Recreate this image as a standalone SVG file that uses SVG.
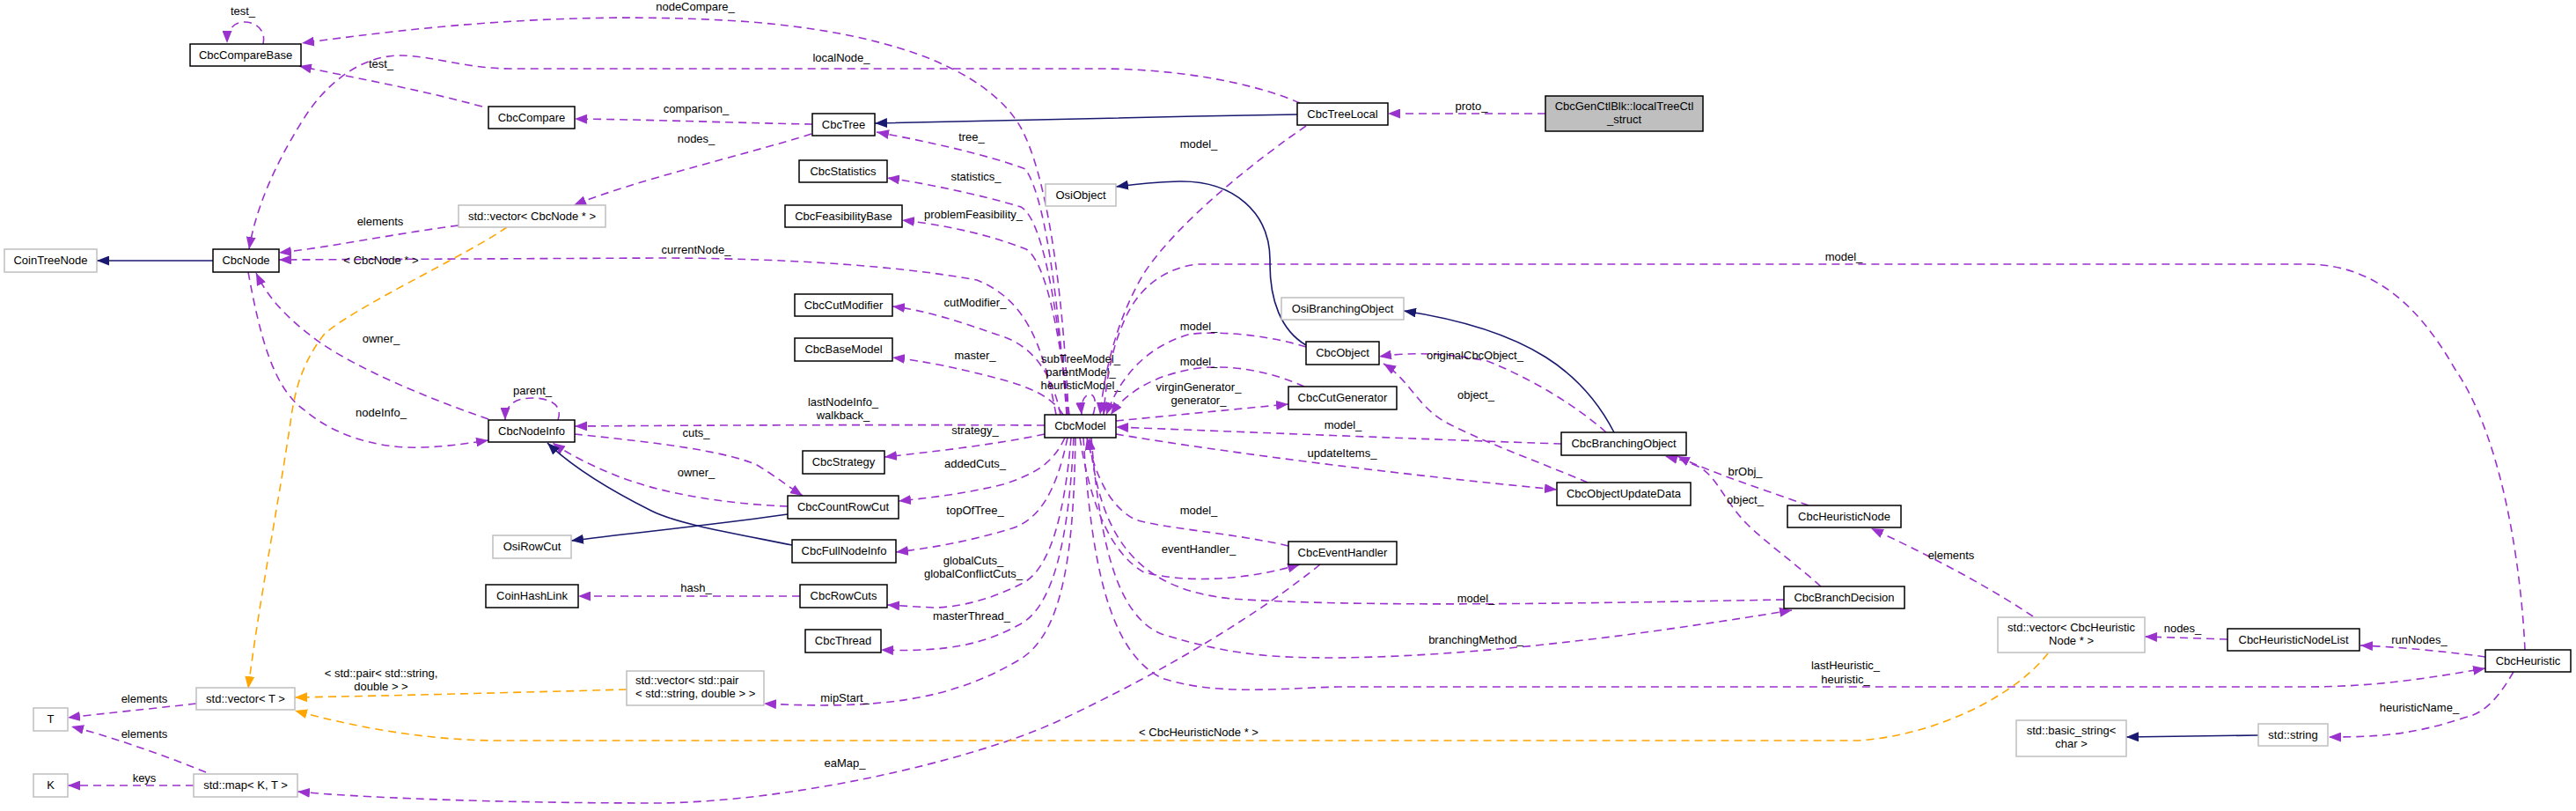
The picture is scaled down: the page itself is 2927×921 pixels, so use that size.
<svg xmlns="http://www.w3.org/2000/svg" width="2927" height="921" viewBox="0 0 2927 921">
<style>
.n rect{fill:#fff;stroke:#000;stroke-width:1.5}
.g rect{fill:#fff;stroke:#bfbfbf;stroke-width:1.5}
.s rect{fill:#bfbfbf;stroke:#000;stroke-width:1.5}
text{font-family:"Liberation Sans",Arial,sans-serif;font-size:13px;fill:#000;text-anchor:middle}
.u{fill:none;stroke:#9a32cd;stroke-width:1.6;stroke-dasharray:9,6;marker-end:url(#ap)}
.i{fill:none;stroke:#191970;stroke-width:1.6;marker-end:url(#an)}
.t{fill:none;stroke:#ffa500;stroke-width:1.6;stroke-dasharray:9,6;marker-end:url(#ao)}
</style>
<defs>
<marker id="ap" markerUnits="userSpaceOnUse" viewBox="0 0 15 11" markerWidth="15" markerHeight="11" refX="14" refY="5.5" orient="auto"><path d="M0,0 L14,5.5 L0,11 z" fill="#9a32cd" stroke="none"/></marker>
<marker id="an" markerUnits="userSpaceOnUse" viewBox="0 0 15 11" markerWidth="15" markerHeight="11" refX="14" refY="5.5" orient="auto"><path d="M0,0 L14,5.5 L0,11 z" fill="#191970" stroke="none"/></marker>
<marker id="ao" markerUnits="userSpaceOnUse" viewBox="0 0 15 11" markerWidth="15" markerHeight="11" refX="14" refY="5.5" orient="auto"><path d="M0,0 L14,5.5 L0,11 z" fill="#ffa500" stroke="none"/></marker>
</defs>
<rect width="2927" height="921" fill="#fff"/>
<g id="connectors">
<!-- usage edges -->
<path class="u" d="M299,50 C303,32 288,25 278,25 C266,25 258,33 258,49"/>
<text x="276" y="17">test_</text>
<path class="u" d="M1214,471 C1208,330 1190,200 1160,145 C1120,75 1000,35 840,24 C650,12 480,30 343,49"/>
<text x="790" y="12">nodeCompare_</text>
<path class="u" d="M1477,117 C1420,92 1330,78 1250,78 L580,78 C530,78 490,63 455,63 C410,63 370,95 345,135 C310,190 290,240 283,283"/>
<text x="956" y="70">localNode_</text>
<path class="u" d="M548,121 C470,100 400,88 340,75"/>
<text x="433" y="77">test_</text>
<path class="u" d="M923,141 C850,140 750,136 653,135"/>
<text x="791" y="128">comparison_</text>
<path class="u" d="M922,152 C850,175 720,205 652,233"/>
<text x="791" y="162">nodes_</text>
<path class="u" d="M1212,471 C1205,380 1192,230 1165,192 C1120,175 1050,160 996,150"/>
<text x="1104" y="160">tree_</text>
<path class="u" d="M1213,471 C1205,380 1188,250 1160,235 C1110,220 1050,208 1008,202"/>
<text x="1109" y="205">statistics_</text>
<path class="u" d="M1215,471 C1206,400 1192,300 1166,283 C1120,265 1070,255 1025,250"/>
<text x="1106" y="248">problemFeasibility_</text>
<path class="u" d="M1200,471 C1185,390 1165,340 1110,318 C1000,298 850,293 750,293 L317,295"/>
<text x="791" y="288">currentNode_</text>
<path class="u" d="M1205,471 C1195,420 1170,390 1133,380 C1090,365 1050,352 1014,348"/>
<text x="1108" y="348">cutModifier_</text>
<path class="u" d="M1208,471 C1195,450 1170,440 1142,432 C1090,418 1050,410 1014,406"/>
<text x="1108" y="408">master_</text>
<path class="u" d="M1242,471 C1252,440 1226,440 1229,471"/>
<text x="1228" y="412">subTreeModel_</text>
<text x="1228" y="427">parentModel_</text>
<text x="1228" y="442">heuristicModel_</text>
<path class="u" d="M1187,483 C1000,482 800,483 653,484"/>
<text x="958" y="461">lastNodeInfo_</text>
<text x="958" y="476">walkback_</text>
<path class="u" d="M1187,493 C1130,505 1060,513 1005,519"/>
<text x="1108" y="493">strategy_</text>
<path class="u" d="M1210,497 C1195,530 1170,540 1140,550 C1100,560 1060,565 1021,569"/>
<text x="1108" y="531">addedCuts_</text>
<path class="u" d="M1213,497 C1200,560 1180,590 1150,600 C1100,615 1060,622 1018,627"/>
<text x="1108" y="584">topOfTree_</text>
<path class="u" d="M1217,497 C1210,580 1195,640 1166,660 C1130,680 1090,690 1060,690 L1008,687"/>
<text x="1106" y="641">globalCuts_</text>
<text x="1106" y="656">globalConflictCuts_</text>
<path class="u" d="M1220,497 C1215,600 1200,690 1157,710 C1120,730 1080,741 1001,738"/>
<text x="1104" y="704">masterThread_</text>
<path class="u" d="M1222,497 C1220,620 1210,720 1157,750 C1080,795 1000,806 868,799"/>
<text x="960" y="797">mipStart_</text>
<path class="u" d="M653,493 C720,500 820,510 860,528 C880,540 895,552 912,563"/>
<text x="791" y="496">cuts_</text>
<path class="u" d="M895,575 C820,572 750,560 700,540 C670,528 645,515 628,503"/>
<text x="791" y="541">owner_</text>
<path class="u" d="M909,677 L657,677"/>
<text x="791" y="672">hash_</text>
<path class="u" d="M555,476 C480,450 410,420 365,390 C330,365 305,340 291,310"/>
<text x="433" y="389">owner_</text>
<path class="u" d="M282,309 C295,380 310,440 345,465 C380,495 430,510 480,508 C510,507 535,503 555,500"/>
<text x="433" y="473">nodeInfo_</text>
<path class="u" d="M634,477 C640,460 625,452 605,452 C585,452 574,460 574,477"/>
<text x="605" y="448">parent_</text>
<path class="u" d="M521,256 C450,265 380,280 317,287"/>
<text x="432" y="256">elements</text>
<path class="u" d="M1756,129 L1577,129"/>
<text x="1672" y="125">proto_</text>
<path class="u" d="M1484,143 C1430,180 1340,250 1300,310 C1270,360 1255,420 1250,471"/>
<text x="1362" y="168">model_</text>
<path class="u" d="M2869,738 C2865,650 2845,500 2790,420 C2750,350 2700,300 2620,300 L1360,300 C1320,305 1290,330 1275,370 C1262,400 1256,440 1254,471"/>
<text x="2095" y="296">model_</text>
<path class="u" d="M1484,394 C1440,380 1380,375 1350,380 C1300,395 1272,430 1257,471"/>
<text x="1362" y="375">model_</text>
<path class="u" d="M1482,439 C1440,420 1390,412 1350,420 C1310,428 1280,445 1262,471"/>
<text x="1362" y="415">model_</text>
<path class="u" d="M1268,478 C1330,472 1400,465 1464,459"/>
<text x="1362" y="444">virginGenerator_</text>
<text x="1362" y="459">generator_</text>
<path class="u" d="M1774,504 C1650,500 1400,490 1268,485"/>
<text x="1526" y="487">model_</text>
<path class="u" d="M1268,493 C1400,515 1600,540 1769,556"/>
<text x="1525" y="519">updateItems_</text>
<path class="u" d="M1825,491 C1790,460 1740,430 1690,410 C1640,400 1600,400 1567,405"/>
<text x="1676" y="408">originalCbcObject_</text>
<path class="u" d="M1804,548 C1750,525 1680,500 1640,478 C1610,460 1600,430 1572,413"/>
<text x="1677" y="453">object_</text>
<path class="u" d="M2055,574 C2000,555 1940,535 1906,518"/>
<text x="1983" y="540">brObj_</text>
<path class="u" d="M2069,666 C2040,640 2005,615 1985,595 C1960,570 1950,540 1930,530 C1915,523 1900,520 1892,518"/>
<text x="1983" y="572">object_</text>
<path class="u" d="M1464,620 C1400,605 1320,600 1290,590 C1260,575 1245,540 1235,497"/>
<text x="1362" y="584">model_</text>
<path class="u" d="M1227,497 C1240,580 1265,630 1300,650 C1360,665 1430,655 1477,641"/>
<text x="1362" y="628">eventHandler_</text>
<path class="u" d="M1500,641 C1440,690 1330,760 1200,820 C1100,865 900,910 750,912 C550,912 400,905 338,899"/>
<text x="960" y="871">eaMap_</text>
<path class="u" d="M2027,681 C1800,685 1550,690 1400,680 C1300,670 1250,620 1238,497"/>
<text x="1677" y="684">model_</text>
<path class="u" d="M1240,497 C1250,620 1270,700 1320,720 C1400,745 1450,747 1520,747 C1700,745 1900,715 2036,693"/>
<text x="1677" y="731">branchingMethod_</text>
<path class="u" d="M1231,497 C1240,640 1260,740 1320,770 C1380,790 1450,782 1520,780 L2620,780 C2700,780 2760,770 2824,759"/>
<text x="2097" y="760">lastHeuristic_</text>
<text x="2097" y="776">heuristic_</text>
<path class="u" d="M2310,700 C2250,660 2180,625 2126,600"/>
<text x="2217" y="635">elements</text>
<path class="u" d="M2531,726 L2437,723"/>
<text x="2480" y="718">nodes_</text>
<path class="u" d="M2824,746 C2780,740 2730,735 2682,733"/>
<text x="2749" y="731">runNodes_</text>
<path class="u" d="M2856,763 C2840,790 2825,810 2800,815 C2740,835 2700,837 2646,837"/>
<text x="2749" y="808">heuristicName_</text>
<path class="u" d="M223,799 C170,805 120,810 77,815"/>
<text x="164" y="798">elements</text>
<path class="u" d="M234,877 C180,855 120,835 81,825"/>
<text x="164" y="838">elements</text>
<path class="u" d="M220,892 L77,892"/>
<text x="164" y="888">keys</text>
<!-- inheritance edges -->
<path class="i" d="M242,296 L110,296"/>
<path class="i" d="M1474,130 C1300,133 1100,137 994,140"/>
<path class="i" d="M1484,392 C1455,375 1443,340 1443,300 C1445,240 1400,205 1340,206 C1310,207 1290,209 1268,212"/>
<path class="i" d="M1834,491 C1800,425 1740,375 1595,353"/>
<path class="i" d="M895,584 C820,595 720,605 649,614"/>
<path class="i" d="M900,619 C830,605 770,595 740,580 C690,555 650,530 622,503"/>
<path class="i" d="M2566,835 L2416,837"/>
<!-- template edges -->
<path class="t" d="M576,258 C530,290 400,350 368,380 C345,410 335,440 330,480 C315,580 295,680 282,782"/>
<text x="433" y="300">&lt; CbcNode * &gt;</text>
<path class="t" d="M712,783 C600,786 450,790 335,792"/>
<text x="433" y="769">&lt; std::pair&lt; std::string,</text>
<text x="433" y="784">double &gt; &gt;</text>
<path class="t" d="M2327,742 C2290,790 2200,835 2112,841 L560,841 C480,840 400,825 335,807"/>
<text x="1362" y="836">&lt; CbcHeuristicNode * &gt;</text>
</g>
<g id="CbcCompareBase" class="n"><rect x="216" y="50" width="126" height="25"/><text x="279" y="67">CbcCompareBase</text></g>
<g id="CbcCompare" class="n"><rect x="555" y="121" width="98" height="25"/><text x="604" y="138">CbcCompare</text></g>
<g id="CbcTree" class="n"><rect x="923" y="129" width="71" height="25"/><text x="958.5" y="146">CbcTree</text></g>
<g id="CbcTreeLocal" class="n"><rect x="1474" y="117" width="103" height="25"/><text x="1525.5" y="134">CbcTreeLocal</text></g>
<g id="CbcGenCtlBlk_localTreeCtl_struct" class="s"><rect x="1756" y="109" width="179" height="40"/><text x="1845.5" y="125">CbcGenCtlBlk::localTreeCtl</text><text x="1845.5" y="140">_struct</text></g>
<g id="CbcStatistics" class="n"><rect x="908" y="182" width="100" height="25"/><text x="958" y="199">CbcStatistics</text></g>
<g id="OsiObject" class="g"><rect x="1188" y="209" width="80" height="25"/><text x="1228" y="226">OsiObject</text></g>
<g id="CbcFeasibilityBase" class="n"><rect x="892" y="233" width="133" height="25"/><text x="958.5" y="250">CbcFeasibilityBase</text></g>
<g id="vector_CbcNode" class="g"><rect x="521" y="233" width="167" height="25"/><text x="604.5" y="250">std::vector&lt; CbcNode * &gt;</text></g>
<g id="CoinTreeNode" class="g"><rect x="5" y="283" width="105" height="26"/><text x="57.5" y="300">CoinTreeNode</text></g>
<g id="CbcNode" class="n"><rect x="242" y="283" width="75" height="26"/><text x="279.5" y="300">CbcNode</text></g>
<g id="OsiBranchingObject" class="g"><rect x="1456" y="338" width="139" height="25"/><text x="1525.5" y="355">OsiBranchingObject</text></g>
<g id="CbcCutModifier" class="n"><rect x="903" y="334" width="111" height="25"/><text x="958.5" y="351">CbcCutModifier</text></g>
<g id="CbcBaseModel" class="n"><rect x="903" y="384" width="111" height="26"/><text x="958.5" y="401">CbcBaseModel</text></g>
<g id="CbcObject" class="n"><rect x="1484" y="388" width="83" height="26"/><text x="1525.5" y="405">CbcObject</text></g>
<g id="CbcCutGenerator" class="n"><rect x="1464" y="439" width="123" height="26"/><text x="1525.5" y="456">CbcCutGenerator</text></g>
<g id="CbcNodeInfo" class="n"><rect x="555" y="477" width="98" height="25"/><text x="604" y="494">CbcNodeInfo</text></g>
<g id="CbcModel" class="n"><rect x="1187" y="471" width="81" height="26"/><text x="1227.5" y="488">CbcModel</text></g>
<g id="CbcBranchingObject" class="n"><rect x="1774" y="491" width="142" height="26"/><text x="1845" y="508">CbcBranchingObject</text></g>
<g id="CbcStrategy" class="n"><rect x="912" y="512" width="93" height="26"/><text x="958.5" y="529">CbcStrategy</text></g>
<g id="CbcObjectUpdateData" class="n"><rect x="1769" y="548" width="152" height="26"/><text x="1845" y="565">CbcObjectUpdateData</text></g>
<g id="CbcCountRowCut" class="n"><rect x="895" y="563" width="126" height="26"/><text x="958" y="580">CbcCountRowCut</text></g>
<g id="CbcHeuristicNode" class="n"><rect x="2031" y="574" width="129" height="25"/><text x="2095.5" y="591">CbcHeuristicNode</text></g>
<g id="OsiRowCut" class="g"><rect x="560" y="608" width="89" height="26"/><text x="604.5" y="625">OsiRowCut</text></g>
<g id="CbcFullNodeInfo" class="n"><rect x="900" y="613" width="118" height="26"/><text x="959" y="630">CbcFullNodeInfo</text></g>
<g id="CbcEventHandler" class="n"><rect x="1464" y="615" width="123" height="26"/><text x="1525.5" y="632">CbcEventHandler</text></g>
<g id="CoinHashLink" class="n"><rect x="552" y="664" width="105" height="26"/><text x="604.5" y="681">CoinHashLink</text></g>
<g id="CbcRowCuts" class="n"><rect x="909" y="664" width="99" height="26"/><text x="958.5" y="681">CbcRowCuts</text></g>
<g id="CbcBranchDecision" class="n"><rect x="2027" y="666" width="137" height="25"/><text x="2095.5" y="683">CbcBranchDecision</text></g>
<g id="vector_CbcHeuristicNode" class="g"><rect x="2270" y="701" width="167" height="40"/><text x="2353.5" y="717">std::vector&lt; CbcHeuristic</text><text x="2353.5" y="732">Node * &gt;</text></g>
<g id="CbcHeuristicNodeList" class="n"><rect x="2531" y="714" width="150" height="25"/><text x="2606" y="731">CbcHeuristicNodeList</text></g>
<g id="CbcThread" class="n"><rect x="915" y="715" width="86" height="26"/><text x="958" y="732">CbcThread</text></g>
<g id="CbcHeuristic" class="n"><rect x="2824" y="738" width="97" height="25"/><text x="2872.5" y="755">CbcHeuristic</text></g>
<g id="vector_pair" class="g"><rect x="712" y="762" width="156" height="39"/><text x="722" y="777" style="text-anchor:start">std::vector&lt; std::pair</text><text x="722" y="792" style="text-anchor:start">&lt; std::string, double &gt; &gt;</text></g>
<g id="vector_T" class="g"><rect x="223" y="781" width="112" height="25"/><text x="279" y="798">std::vector&lt; T &gt;</text></g>
<g id="T" class="g"><rect x="38" y="804" width="39" height="26"/><text x="57.5" y="821">T</text></g>
<g id="std_string" class="g"><rect x="2566" y="822" width="79" height="25"/><text x="2605.5" y="839">std::string</text></g>
<g id="basic_string" class="g"><rect x="2291" y="818" width="125" height="41"/><text x="2353.5" y="834">std::basic_string&lt;</text><text x="2353.5" y="849">char &gt;</text></g>
<g id="K" class="g"><rect x="38" y="879" width="39" height="26"/><text x="57.5" y="896">K</text></g>
<g id="map_K_T" class="g"><rect x="220" y="879" width="118" height="26"/><text x="279" y="896">std::map&lt; K, T &gt;</text></g>
</svg>
